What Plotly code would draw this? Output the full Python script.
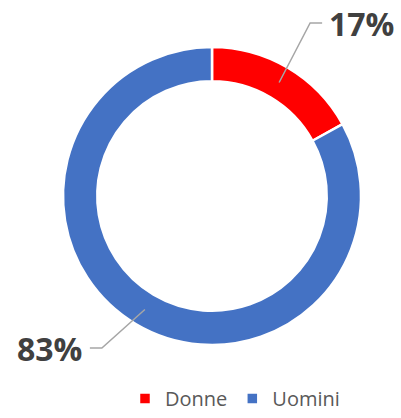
import math
import plotly.graph_objects as go

labels = ["Donne", "Uomini"]
values = [17, 83]
colors = ["#FF0000", "#4472C4"]
title_text = "del CdA MEF"

W, H = 401, 418
CX, CY, R_OUT = 212, 196, 149
HOLE = 0.77

def px(x):
    return x / W

def py(y):
    return 1 - y / H

fig = go.Figure()
fig.add_trace(go.Pie(
    labels=labels, values=values, hole=HOLE, sort=False, direction="clockwise",
    rotation=0, marker=dict(colors=colors, line=dict(color="white", width=2.5)),
    textinfo="none", hoverinfo="label+percent",
    domain=dict(x=[px(CX - R_OUT), px(CX + R_OUT)], y=[py(CY + R_OUT), py(CY - R_OUT)]),
))

total = sum(values)
r_mid = R_OUT * (1 + HOLE) / 2
cum = 0
annotations = []
shapes = []
for i, v in enumerate(values):
    mid = (cum + v / 2) / total * 2 * math.pi
    cum += v
    x0 = CX + r_mid * math.sin(mid)
    y0 = CY - r_mid * math.cos(mid)
    right = math.sin(mid) >= 0
    if right:
        ex, ey = x0 + 31, 23
        hx = ex + 12
        tx, anchor = hx + 5, "left"
    else:
        ex, ey = x0 - 43, 348
        hx = ex - 12
        tx, anchor = hx - 6, "right"
    shapes.append(dict(type="path", xref="paper", yref="paper",
                       path=f"M{px(x0)},{py(y0)} L{px(ex)},{py(ey)} L{px(hx)},{py(ey)}",
                       line=dict(color="#A6A6A6", width=1.5)))
    annotations.append(dict(x=px(tx), y=py(ey), xref="paper", yref="paper",
                            text=f"<b>{round(v / total * 100)}%</b>", showarrow=False,
                            xanchor=anchor, yanchor="middle",
                            font=dict(family="Open Sans", size=32, color="#404040")))

annotations.append(dict(x=px(227), y=py(3), xref="paper", yref="paper",
                        text=f"<b>{title_text}</b>", showarrow=False,
                        xanchor="center", yanchor="bottom",
                        font=dict(family="Open Sans", size=37, color="#454545")))

fig.update_layout(
    width=W, height=H, margin=dict(l=0, r=0, t=0, b=0, autoexpand=False),
    paper_bgcolor="white", plot_bgcolor="white",
    showlegend=True,
    legend=dict(orientation="h", x=px(235), xanchor="center", y=0, yanchor="bottom",
                font=dict(family="Open Sans", size=20, color="#595959"),
                itemwidth=30, traceorder="normal"),
    annotations=annotations, shapes=shapes,
)
fig.write_html("out.html", config={"displayModeBar": False},
               post_script="document.body.style.margin='0';")
